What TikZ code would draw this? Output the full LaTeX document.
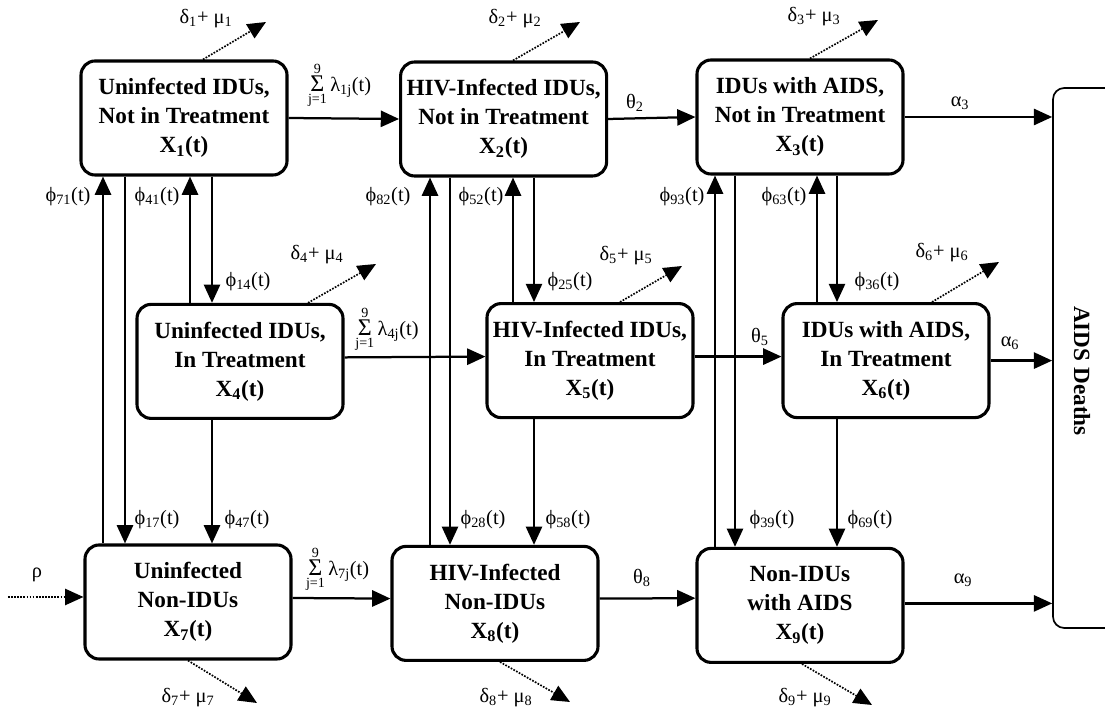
\documentclass[tikz,border=0pt]{standalone}
\usepackage{fontspec}
\setmainfont{Liberation Serif}
\usetikzlibrary{arrows.meta}
\newcommand{\lamsum}{$\mathop{\hbox{\fontsize{17}{17}\selectfont Σ}}\limits_{\hbox{\fontsize{10}{10}\selectfont j=1}}^{\hbox{\fontsize{10}{10}\selectfont 9}}$}
\tikzset{
  box/.style={draw, line width=2.2pt, rounded corners=10pt, minimum width=5.15cm, minimum height=2.85cm, align=center, font=\fontsize{16.5}{20.6}\selectfont\bfseries},
  flow/.style={->, line width=1.6pt},
  loss/.style={->, line width=1.2pt, densely dotted},
  lab/.style={font=\fontsize{14.5}{17}\selectfont, inner sep=1pt}
}
\begin{document}
\begin{tikzpicture}[>={Triangle[length=13pt,width=11.5pt]}]
\useasboundingbox (0,0) rectangle (27.625,17.875);
\node[box] (X1) at (4.6,14.925) {Uninfected IDUs,\\Not in Treatment\\X\textsubscript{1}(t)};
\node[box] (X2) at (12.59,14.9) {HIV-Infected IDUs,\\Not in Treatment\\X\textsubscript{2}(t)};
\node[box] (X3) at (20.0,14.95) {IDUs with AIDS,\\Not in Treatment\\X\textsubscript{3}(t)};
\node[box] (X4) at (6.0,8.84) {Uninfected IDUs,\\In Treatment\\X\textsubscript{4}(t)};
\node[box] (X5) at (14.75,8.86) {HIV-Infected IDUs,\\In Treatment\\X\textsubscript{5}(t)};
\node[box] (X6) at (22.15,8.86) {IDUs with AIDS,\\In Treatment\\X\textsubscript{6}(t)};
\node[box] (X7) at (4.7,2.825) {Uninfected\\Non-IDUs\\X\textsubscript{7}(t)};
\node[box] (X8) at (12.375,2.79) {HIV-Infected\\Non-IDUs\\X\textsubscript{8}(t)};
\node[box] (X9) at (20.0,2.74) {Non-IDUs\\with AIDS\\X\textsubscript{9}(t)};
\node[draw, line width=1.2pt, rounded corners=8pt, minimum width=2cm, minimum height=13.5cm] (D) at (27.325,8.925) {};
\node[rotate=-90, font=\fontsize{16.5}{20}\selectfont\bfseries] (Dtxt) at (27.05,8.6) {AIDS Deaths};

\draw[flow] (X1.east) -- (X2.west);
\draw[flow] (X2.east) -- (X3.west);
\draw[flow] (X3.east) -- (X3.east -| D.west);
\draw[flow] ([yshift=.1cm]X4.east) -- ([yshift=.1cm]X5.west);
\draw[flow] ([yshift=.1cm]X5.east) -- ([yshift=.1cm]X6.west);
\draw[flow] (X6.east) -- (X6.east -| D.west);
\draw[flow] ([yshift=.1cm]X7.east) -- ([yshift=.12cm]X8.west);
\draw[flow] ([yshift=.12cm]X8.east) -- ([yshift=.18cm]X9.west);
\draw[flow] ([yshift=.05cm]X9.east) -- ([yshift=.05cm]X9.east -| D.west);

\node[lab] (s1) at (8.49,15.74) {\lamsum\,λ\textsubscript{1j}(t)};
\node[lab] (t2) at (15.875,15.3) {θ\textsubscript{2}};
\node[lab] (a3) at (24.0,15.3) {α\textsubscript{3}};
\node[lab] (s4) at (9.675,9.65) {\lamsum\,λ\textsubscript{4j}(t)};
\node[lab] (t5) at (19.0,9.45) {θ\textsubscript{5}};
\node[lab] (a6) at (25.25,9.3) {α\textsubscript{6}};
\node[lab] (s7) at (8.44,3.65) {\lamsum\,λ\textsubscript{7j}(t)};
\node[lab] (t8) at (16.05,3.425) {θ\textsubscript{8}};
\node[lab] (a9) at (24.075,3.375) {α\textsubscript{9}};

\coordinate (c71) at (2.575,0);
\coordinate (c17) at (3.125,0);
\coordinate (c41) at (4.75,0);
\coordinate (c14) at (5.3,0);
\coordinate (c82) at (10.75,0);
\coordinate (c28) at (11.25,0);
\coordinate (c52) at (12.825,0);
\coordinate (c25) at (13.35,0);
\coordinate (c93) at (17.875,0);
\coordinate (c39) at (18.375,0);
\coordinate (c63) at (20.425,0);
\coordinate (c36) at (20.925,0);

\draw[flow] (X7.north -| c71) -- (X1.south -| c71);
\draw[flow] (X1.south -| c17) -- (X7.north -| c17);
\draw[flow] (X4.north -| c41) -- (X1.south -| c41);
\draw[flow] (X1.south -| c14) -- (X4.north -| c14);
\draw[flow] (X4.south -| c14) -- (X7.north -| c14);
\draw[flow] (X8.north -| c82) -- (X2.south -| c82);
\draw[flow] (X2.south -| c28) -- (X8.north -| c28);
\draw[flow] (X5.north -| c52) -- (X2.south -| c52);
\draw[flow] (X2.south -| c25) -- (X5.north -| c25);
\draw[flow] (X5.south -| c25) -- (X8.north -| c25);
\draw[flow] (X9.north -| c93) -- (X3.south -| c93);
\draw[flow] (X3.south -| c39) -- (X9.north -| c39);
\draw[flow] (X6.north -| c63) -- (X3.south -| c63);
\draw[flow] (X3.south -| c36) -- (X6.north -| c36);
\draw[flow] (X6.south -| c36) -- (X9.north -| c36);

\node[lab] (p71) at (1.7,12.95) {ϕ\textsubscript{71}(t)};
\node[lab] (p41) at (3.925,12.95) {ϕ\textsubscript{41}(t)};
\node[lab] (p14) at (6.2,10.825) {ϕ\textsubscript{14}(t)};
\node[lab] (p17) at (3.925,4.875) {ϕ\textsubscript{17}(t)};
\node[lab] (p47) at (6.175,4.875) {ϕ\textsubscript{47}(t)};
\node[lab] (p82) at (9.7,12.95) {ϕ\textsubscript{82}(t)};
\node[lab] (p52) at (12.025,12.95) {ϕ\textsubscript{52}(t)};
\node[lab] (p25) at (14.25,10.825) {ϕ\textsubscript{25}(t)};
\node[lab] (p28) at (12.075,4.875) {ϕ\textsubscript{28}(t)};
\node[lab] (p58) at (14.2,4.875) {ϕ\textsubscript{58}(t)};
\node[lab] (p93) at (17.05,12.95) {ϕ\textsubscript{93}(t)};
\node[lab] (p63) at (19.6,12.95) {ϕ\textsubscript{63}(t)};
\node[lab] (p36) at (21.925,10.825) {ϕ\textsubscript{36}(t)};
\node[lab] (p39) at (19.3,4.875) {ϕ\textsubscript{39}(t)};
\node[lab] (p69) at (21.75,4.875) {ϕ\textsubscript{69}(t)};

\coordinate (e1) at (6.65,17.325);
\coordinate (e2) at (14.5,17.325);
\coordinate (e3) at (21.95,17.375);
\coordinate (e4) at (9.4,11.275);
\coordinate (e5) at (17.05,11.225);
\coordinate (e6) at (24.975,11.325);
\coordinate (e7) at (6.425,0.3);
\coordinate (e8) at (14.25,0.325);
\coordinate (e9) at (21.8,0.25);
\coordinate (r0) at (0.2,2.95);

\draw[loss] ([xshift=.475cm]X1.north) -- (e1);
\draw[loss] ([xshift=.235cm]X2.north) -- (e2);
\draw[loss] ([xshift=.25cm]X3.north) -- (e3);
\draw[loss] ([xshift=1.7cm]X4.north) -- (e4);
\draw[loss] ([xshift=.75cm]X5.north) -- (e5);
\draw[loss] ([xshift=1.15cm]X6.north) -- (e6);
\draw[loss] (X7.south) -- (e7);
\draw[loss] ([xshift=.125cm]X8.south) -- (e8);
\draw[loss] ([xshift=.05cm]X9.south) -- (e9);
\draw[loss] (r0) -- (r0 -| X7.west);

\node[lab] (d1) at (5.15,17.4) {δ\textsubscript{1}+ μ\textsubscript{1}};
\node[lab] (d2) at (12.875,17.4) {δ\textsubscript{2}+ μ\textsubscript{2}};
\node[lab] (d3) at (20.35,17.45) {δ\textsubscript{3}+ μ\textsubscript{3}};
\node[lab] (d4) at (7.925,11.5) {δ\textsubscript{4}+ μ\textsubscript{4}};
\node[lab] (d5) at (15.65,11.475) {δ\textsubscript{5}+ μ\textsubscript{5}};
\node[lab] (d6) at (23.55,11.55) {δ\textsubscript{6}+ μ\textsubscript{6}};
\node[lab] (d7) at (4.7,0.425) {δ\textsubscript{7}+ μ\textsubscript{7}};
\node[lab] (d8) at (12.65,0.425) {δ\textsubscript{8}+ μ\textsubscript{8}};
\node[lab] (d9) at (20.125,0.425) {δ\textsubscript{9}+ μ\textsubscript{9}};
\node[lab] (rho) at (0.925,3.5) {ρ};
\end{tikzpicture}
\end{document}
